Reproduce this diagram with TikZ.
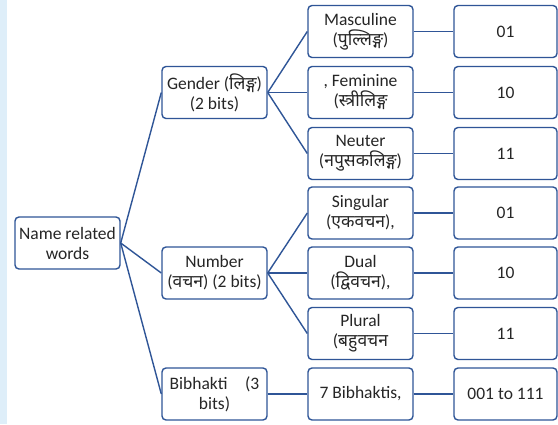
\documentclass[tikz,border=0pt]{standalone}
\usepackage{fontspec}
\setmainfont{Carlito}
\newfontfamily\deva[Script=Devanagari]{Noto Sans}
\usepackage{xcolor}
\usepackage{tikz}
\definecolor{edge}{HTML}{2F5597}
\definecolor{strip}{HTML}{DEEEF9}
\definecolor{ink}{HTML}{262626}
\newcommand\boxfont{\fontsize{17.5}{20}\selectfont\lineskiplimit=-20pt\relax}
\tikzset{
  box/.style={draw=edge, fill=white, line width=1.4pt, rounded corners=4pt,
    minimum width=105pt, minimum height=52pt, inner sep=1pt,
    align=center, text=ink, font=\boxfont},
  val/.style={box, minimum width=103pt},
  link/.style={draw=edge, line width=1.4pt}
}

\begin{document}
\begin{tikzpicture}[x=1pt,y=-1pt]
\useasboundingbox (0,0) rectangle (558,424);
\fill[white] (0,0) rectangle (558,424);
\fill[strip] (0,0) rectangle (7,424);

% root
\node[box] (name) at (67.5,243) {Name related\\words};

% second level
\node[box] (gender) at (214.5,92.5) {Gender ({\deva लिङ्ग})\\(2 bits)};
\node[box] (number) at (214.5,273) {Number\\({\deva वचन}) (2 bits)};
\node[box] (bibhakti) at (214.5,394) {Bibhakti\quad(3\\bits)};

% third level
\node[box] (masc) at (360.5,31.5) {Masculine\\({\deva पुल्लिङ्ग})};
\node[box] (fem) at (360.5,92.5) {, Feminine\\({\deva स्त्रीलिङ्ग}};
\node[box] (neut) at (360.5,153.5) {Neuter\\({\deva नपुसकलिङ्ग})};
\node[box] (sing) at (360.5,213) {Singular\\({\deva एकवचन}),};
\node[box] (dual) at (360.5,273) {Dual\\({\deva द्विवचन}),};
\node[box] (plur) at (360.5,333.5) {Plural\\({\deva बहुवचन}};
\node[box] (seven) at (360.5,394) {7 Bibhaktis,};

% bit codes
\node[val] (c1) at (505.5,31.5) {01};
\node[val] (c2) at (505.5,92.5) {10};
\node[val] (c3) at (505.5,153.5) {11};
\node[val] (c4) at (505.5,213) {01};
\node[val] (c5) at (505.5,273) {10};
\node[val] (c6) at (505.5,333.5) {11};
\node[val] (c7) at (505.5,394) {001 to 111};

% connectors
\draw[link] (name.east) -- (gender.west);
\draw[link] (name.east) -- (number.west);
\draw[link] (name.east) -- (bibhakti.west);
\draw[link] (gender.east) -- (masc.west);
\draw[link] (gender.east) -- (fem.west);
\draw[link] (gender.east) -- (neut.west);
\draw[link] (number.east) -- (sing.west);
\draw[link] (number.east) -- (dual.west);
\draw[link] (number.east) -- (plur.west);
\draw[link] (bibhakti.east) -- (seven.west);
\draw[link] (masc.east) -- (c1.west);
\draw[link] (fem.east) -- (c2.west);
\draw[link] (neut.east) -- (c3.west);
\draw[link] (sing.east) -- (c4.west);
\draw[link] (dual.east) -- (c5.west);
\draw[link] (plur.east) -- (c6.west);
\draw[link] (seven.east) -- (c7.west);
\end{tikzpicture}
\end{document}
